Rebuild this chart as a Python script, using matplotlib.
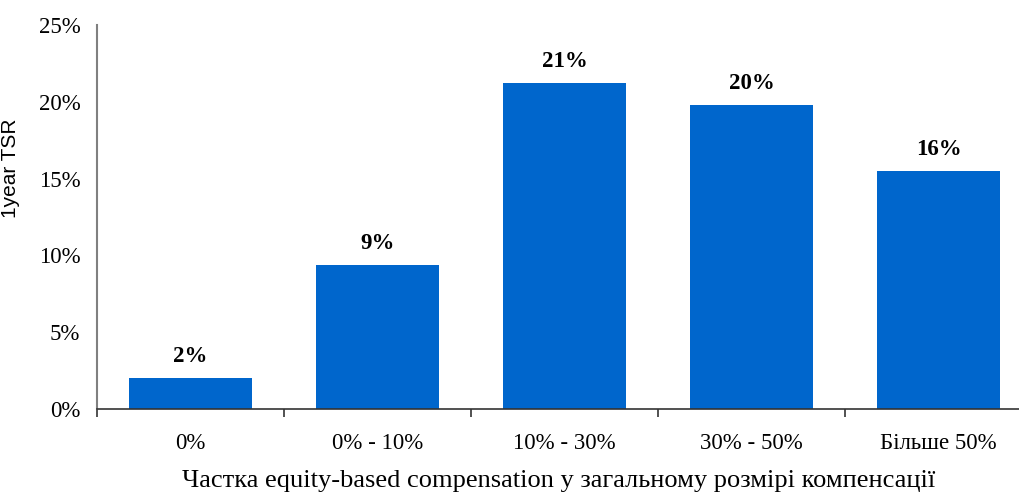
import matplotlib.pyplot as plt
from matplotlib.ticker import FixedLocator, FuncFormatter

# data
categories = ['0%', '0% - 10%', '10% - 30%', '30% - 50%', 'Більше 50%']
tsr_values = [2.0, 9.4, 21.2, 19.8, 15.5]
bar_labels = ['2%', '9%', '21%', '20%', '16%']
y_ticks = [0, 5, 10, 15, 20, 25]

fig = plt.figure(figsize=(10.2, 4.95), dpi=100)
ax = fig.add_axes([0.0951, 0.1737, 0.9049, 0.7758])

positions = list(range(len(categories)))
bars = ax.bar(positions, tsr_values, width=0.66, color='#0066CC', zorder=2)

# value labels above bars
for rect, lab in zip(bars, bar_labels):
    ax.annotate(lab, (rect.get_x() + rect.get_width() / 2, rect.get_height()),
                xytext=(0, 8), textcoords='offset points', ha='center', va='bottom',
                fontsize=16.5, fontweight='bold', family='Liberation Serif')

ax.set_xlim(-0.5, 4.436)
ax.set_ylim(0, 25)

# y axis
ax.yaxis.set_major_locator(FixedLocator(y_ticks))
ax.yaxis.set_major_formatter(FuncFormatter(lambda v, p: '%d%%' % v))
ax.tick_params(axis='y', length=0, pad=12)
for t in ax.get_yticklabels():
    t.set_family('Liberation Serif')
    t.set_fontsize(16.5)

# x axis: labels at centres, tick marks at category borders
ax.set_xticks(positions)
ax.set_xticklabels(categories, family='Liberation Serif', fontsize=16.5)
ax.set_xticks([p - 0.5 for p in positions], minor=True)
ax.tick_params(axis='x', which='major', length=0, pad=17)
ax.tick_params(axis='x', which='minor', length=6, width=1.2, color='#333333', direction='out')

ax.spines['top'].set_visible(False)
ax.spines['right'].set_visible(False)
ax.spines['left'].set_color('#808080')
ax.spines['left'].set_linewidth(1.5)
ax.spines['bottom'].set_color('#333333')
ax.spines['bottom'].set_linewidth(1.2)

ax.set_ylabel('1year TSR', family='Liberation Sans', fontsize=15)
ax.yaxis.set_label_coords(-0.083, 0.628)
ax.set_xlabel('Частка equity-based compensation у загальному розмірі компенсації',
              family='Liberation Serif', fontsize=19, labelpad=12)

fig.savefig('out.png', dpi=100)
